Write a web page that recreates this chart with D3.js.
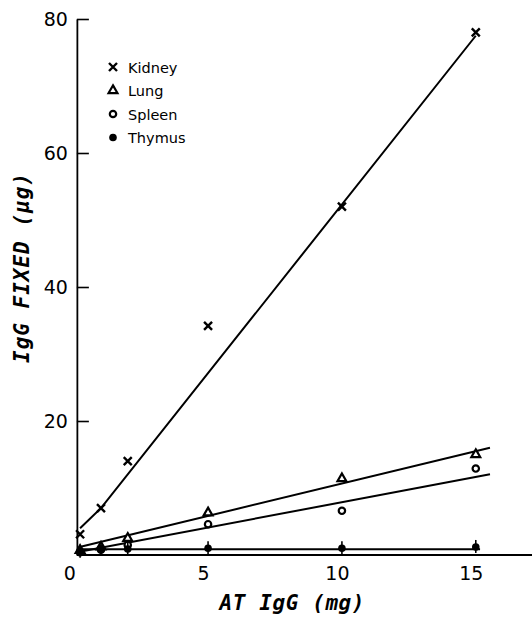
<!DOCTYPE html>
<html>
<head>
<meta charset="utf-8">
<script src="https://cdn.jsdelivr.net/npm/d3@7"></script>
<style>
  body { margin: 0; background: #fff; }
  svg { display: block; }
</style>
</head>
<body>
<div id="container"></div>
<script>
// dose of AT IgG (mg)
const dose = [0.22, 1, 2, 5, 10, 15];
const kidney = [3.1, 7.0, 14.0, 34.2, 52.0, 78.0];
const lung = [0.7, 1.2, 2.5, 6.3, 11.4, 15.0];
const spleen = [0.4, 0.8, 1.5, 4.6, 6.6, 12.9];
const thymus = [0.5, 0.9, 0.9, 1.0, 1.0, 1.2];

// fitted lines (x, y pairs)
const kidneyFit = [[0.22, 4.0], [1, 7.0], [15, 77.5]];
const lungFit = [[0.2, 1.2], [15.53, 16.0]];
const spleenFit = [[0.2, 0.5], [15.53, 12.04]];
const thymusFit = [[0.1, 0.85], [15.16, 0.85]];

const yTicks = [20, 40, 60, 80];
const xTicks = [0, 5, 10, 15];
const legendNames = ['Kidney', 'Lung', 'Spleen', 'Thymus'];

const width = 532, height = 617;
const svg = d3.select('#container').append('svg').attr('width', width).attr('height', height);

const x = d3.scaleLinear().domain([0, 17.1]).range([74.2, 532]);
const y = d3.scaleLinear().domain([0, 80]).range([555, 19]);
const axisX = x(0.1);

// y axis, ticks pointing inward
const yAxis = svg.append('g')
    .attr('transform', `translate(${axisX},0)`)
    .call(d3.axisLeft(y).tickValues(yTicks).tickSizeInner(-12).tickSizeOuter(0).tickPadding(9));
yAxis.select('.domain').attr('stroke-width', 1.8);
yAxis.selectAll('.tick line').attr('stroke-width', 1.6);
yAxis.selectAll('text').attr('font-family', 'DejaVu Sans').attr('font-size', 19).attr('fill', '#000');

// x axis
svg.append('line')
    .attr('x1', axisX).attr('x2', width)
    .attr('y1', y(0)).attr('y2', y(0))
    .attr('stroke', '#000').attr('stroke-width', 1.8);
const xAxis = svg.append('g')
    .attr('transform', `translate(0,${y(0)})`)
    .call(d3.axisBottom(x).tickValues(xTicks).tickSize(0).tickPadding(12));
xAxis.select('.domain').remove();
xAxis.selectAll('text').attr('font-family', 'DejaVu Sans').attr('font-size', 19).attr('fill', '#000').attr('dx', -5);

// axis titles
svg.append('text')
    .attr('x', 292).attr('y', 610)
    .attr('text-anchor', 'middle')
    .attr('font-family', 'DejaVu Sans Mono').attr('font-weight', 'bold').attr('font-style', 'italic')
    .attr('font-size', 21).attr('textLength', 145).attr('lengthAdjust', 'spacing')
    .text('AT IgG (mg)');
svg.append('text')
    .attr('transform', 'translate(29,268) rotate(-90)')
    .attr('text-anchor', 'middle')
    .attr('font-family', 'DejaVu Sans Mono').attr('font-weight', 'bold').attr('font-style', 'italic')
    .attr('font-size', 21).attr('textLength', 190).attr('lengthAdjust', 'spacing')
    .text('IgG FIXED (\u03bcg)');

// fit lines
const line = d3.line().x(d => x(d[0])).y(d => y(d[1]));
[kidneyFit, lungFit, spleenFit, thymusFit].forEach(f => {
    svg.append('path').attr('d', line(f))
        .attr('fill', 'none').attr('stroke', '#000').attr('stroke-width', 2);
});

// marker drawers
function cross(g, cx, cy) {
    g.append('path').attr('d', `M${cx - 4},${cy - 4}L${cx + 4},${cy + 4}M${cx + 4},${cy - 4}L${cx - 4},${cy + 4}`)
        .attr('stroke', '#000').attr('stroke-width', 2.4).attr('fill', 'none');
}
function tri(g, cx, cy) {
    g.append('path').attr('d', d3.symbol(d3.symbolTriangle, 34)())
        .attr('transform', `translate(${cx},${cy})`)
        .attr('fill', '#fff').attr('stroke', '#000').attr('stroke-width', 2.2);
}
function ring(g, cx, cy) {
    g.append('circle').attr('cx', cx).attr('cy', cy).attr('r', 3.2)
        .attr('fill', '#fff').attr('stroke', '#000').attr('stroke-width', 2.2);
}
function dot(g, cx, cy, bar) {
    if (bar) g.append('line').attr('x1', cx).attr('x2', cx).attr('y1', cy - 7).attr('y2', cy + 6)
        .attr('stroke', '#000').attr('stroke-width', 1.6);
    g.append('circle').attr('cx', cx).attr('cy', cy).attr('r', 3.8).attr('fill', '#000');
}
const drawers = [cross, tri, ring, dot];
const series = [kidney, lung, spleen, thymus];

const marks = svg.append('g');
series.forEach((s, si) => {
    s.forEach((v, i) => drawers[si](marks, x(dose[i]), y(v), true));
});

// legend
const legend = svg.append('g');
legendNames.forEach((name, i) => {
    const ly = 67 + i * 23.5;
    drawers[i](legend, 113, ly, false);
    legend.append('text')
        .attr('x', 128).attr('y', ly + 5.5)
        .attr('font-family', 'DejaVu Sans').attr('font-size', 14.5).attr('font-weight', 500)
        .text(name);
});
</script>
</body>
</html>
